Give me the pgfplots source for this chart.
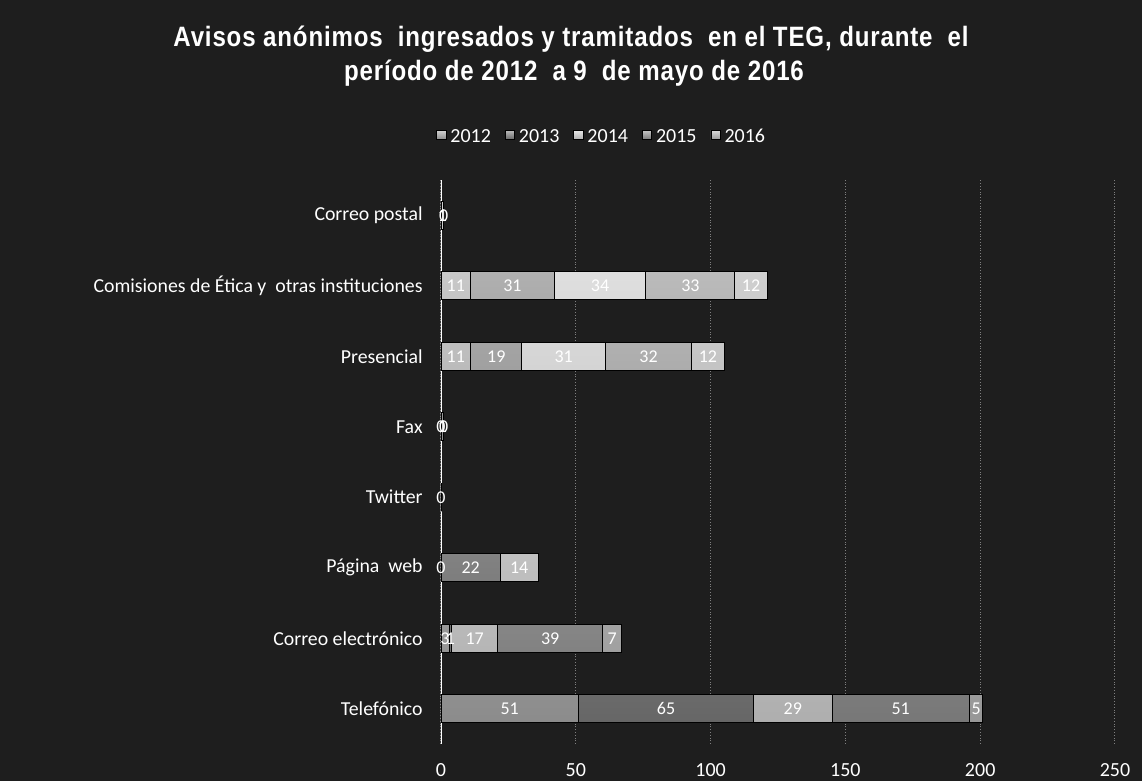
\documentclass[border=0pt]{standalone}
\usepackage{fontspec}
\setmainfont{Carlito}
\newfontfamily\titlefont[FakeStretch=0.86,LetterSpace=3]{Liberation Sans}
\usepackage{pgfplots}
\usepackage{pgfplotstable}
\pgfplotsset{compat=1.18}
\definecolor{bg}{HTML}{1E1E1E}
\definecolor{cA}{HTML}{A4A4A4}
\definecolor{cB}{HTML}{787878}
\definecolor{cC}{HTML}{CDCDCD}
\definecolor{cD}{HTML}{8C8C8C}
\definecolor{cE}{HTML}{B2B2B2}

\pgfplotstableread{
y x lab
0 51 51
1 3 3
2 0 0
3 0 0
4 0 0
5 11 11
6 11 11
7 1 1
}\tA
\pgfplotstableread{
y x lab
0 65 65
1 1 1
2 22 22
3 0 {}
4 1 1
5 19 19
6 31 31
7 0 0
}\tB
\pgfplotstableread{
y x lab
0 29 29
1 17 17
2 14 14
3 0 {}
4 0 0
5 31 31
6 34 34
7 0 {}
}\tC
\pgfplotstableread{
y x lab
0 51 51
1 39 39
2 0 {}
3 0 {}
4 0 {}
5 32 32
6 33 33
7 0 {}
}\tD
\pgfplotstableread{
y x lab
0 5 5
1 7 7
2 0 {}
3 0 {}
4 0 {}
5 12 12
6 12 12
7 0 {}
}\tE

\pgfplotsset{
  segfill/.style={draw=black, line width=0.4pt, top color=#1!50!white, bottom color=#1!85!black},
  seg/.style={segfill=#1,
    point meta=explicit symbolic,
    nodes near coords,
    every node near coord/.style={anchor=center, text=white, font=\fontsize{9}{11}\selectfont}},
}

\begin{document}
\begin{tikzpicture}
\path[use as bounding box, fill=bg] (0,0) rectangle (571pt,390.5pt);
\node[anchor=base, text=white, font=\titlefont\bfseries\fontsize{14}{16}\selectfont]
  at (285.5pt,367pt) {Avisos anónimos\ \ ingresados y tramitados\ \ en el TEG, durante\ \ el};
\node[anchor=base, text=white, font=\titlefont\bfseries\fontsize{14}{16}\selectfont]
  at (287pt,350pt) {período de 2012\ \ a 9\ \ de mayo de 2016};
\begin{axis}[
  at={(220.5pt,18.5pt)}, anchor=south west,
  scale only axis, width=337pt, height=282pt,
  xbar stacked, stacked ignores zero=false, bar width=14pt,
  xmin=0, xmax=250, ymin=-0.5, ymax=7.5,
  xtick={0,50,100,150,200,250},
  ytick={0,...,7},
  yticklabels={Telefónico, Correo electrónico, Página\ \ web, Twitter, Fax, Presencial, Comisiones de Ética y\ \ otras instituciones, Correo postal},
  /pgf/number format/assume math mode=true,
  axis line style={draw=none},
  major tick length=0pt,
  xmajorgrids, grid style={white!50!black, densely dotted, line width=0.5pt},
  xticklabel style={anchor=center, yshift=-13pt, text=white, font=\fontsize{10}{12}\selectfont},
  yticklabel style={anchor=east, inner sep=0pt, xshift=-9pt, text=white, font=\fontsize{9.9}{11}\selectfont},
  legend columns=5,
  legend style={at={(0.24,1.08)}, anchor=center, draw=none, fill=none, text=white,
    font=\fontsize{10}{12}\selectfont,
    nodes={text height=7.2pt, text depth=0pt},
    /tikz/every even column/.append style={column sep=5pt}},
  legend image code/.code={\fill[#1] (0pt,-2.3pt) rectangle (4.6pt,2.3pt);},
]
\addlegendimage{segfill=cA}\addlegendentry{2012}
\addlegendimage{segfill=cB}\addlegendentry{2013}
\addlegendimage{segfill=cC}\addlegendentry{2014}
\addlegendimage{segfill=cD}\addlegendentry{2015}
\addlegendimage{segfill=cE}\addlegendentry{2016}
\addplot[seg=cA] table[x=x,y=y,meta=lab] {\tA};
\addplot[seg=cB] table[x=x,y=y,meta=lab] {\tB};
\addplot[seg=cC] table[x=x,y=y,meta=lab] {\tC};
\addplot[seg=cD] table[x=x,y=y,meta=lab] {\tD};
\addplot[seg=cE] table[x=x,y=y,meta=lab] {\tE};
\draw[white, line width=1pt] (axis cs:0,-0.5) -- (axis cs:0,7.5);
\end{axis}
\end{tikzpicture}
\end{document}
